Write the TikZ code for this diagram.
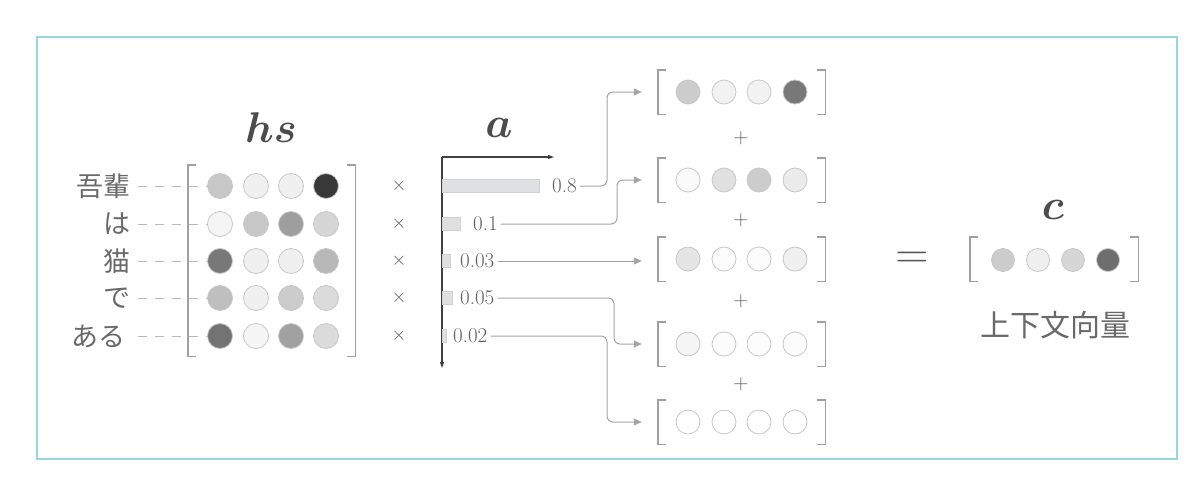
\RequirePackage{fix-cm}
\documentclass[tikz,border=0pt]{standalone}
\usepackage{fontspec}
\usepackage{amsmath,bm}
\newfontfamily\jp{Noto Sans CJK JP}
\usetikzlibrary{arrows.meta}
\definecolor{framec}{RGB}{150,214,220}
\definecolor{txt}{RGB}{95,95,95}
\definecolor{jtxt}{RGB}{105,105,105}
\definecolor{brk}{RGB}{160,160,160}
\definecolor{conn}{RGB}{165,165,165}
\definecolor{barfill}{RGB}{222,224,226}
\tikzset{
  dot/.style={circle, minimum size=25pt, inner sep=0pt, draw=black!22, line width=0.8pt},
  sdot/.style={dot, minimum size=24pt},
  cdot/.style={dot, minimum size=23pt},
  lbl/.style={font=\jp\fontsize{27}{30}\selectfont, text=jtxt, anchor=east, inner sep=0pt},
  dashline/.style={draw=black!28, dash pattern=on 9pt off 8pt, line width=1pt},
  bracket/.style={draw=brk, line width=1.4pt},
  vecbox/.style={rectangle, minimum width=167pt, minimum height=44pt, inner sep=0pt},
  times/.style={font=\fontsize{19}{21}\selectfont, text=txt},
  bar/.style={rectangle, fill=barfill, draw=black!18, line width=0.5pt, minimum height=13pt, inner sep=0pt, anchor=west},
  num/.style={font=\fontsize{21}{23}\selectfont, text=txt, anchor=west, inner xsep=3pt, inner ysep=0pt},
  connector/.style={draw=conn, line width=1pt, rounded corners=6pt, -{Triangle[length=8pt,width=7pt]}},
  plus/.style={font=\fontsize{21}{23}\selectfont, text=txt},
  big/.style={font=\boldmath\fontsize{43}{46}\selectfont, text=black!70},
  axis/.style={draw=black!75, line width=1.1pt, -{Triangle[length=6pt,width=4pt]}}
}
\newcommand{\mybrackets}[1]{%
  \draw[bracket] ([xshift=8pt]#1.north west) -- (#1.north west) -- (#1.south west) -- ([xshift=8pt]#1.south west);
  \draw[bracket] ([xshift=-8pt]#1.north east) -- (#1.north east) -- (#1.south east) -- ([xshift=-8pt]#1.south east);}
\begin{document}
\begin{tikzpicture}[x=1pt,y=-1pt]
\useasboundingbox (0,0) rectangle (1200,482);
\draw[framec, line width=1.5pt] (37,37) rectangle (1177,459);

% titles
\node[big] (hs) at (271,128) {$hs$};
\node[big] (a) at (499,128) {$a$};
\node[big] (c) at (1053,210) {$c$};

% hs matrix
\node[vecbox, minimum height=191pt] (M) at (271.5,260.5) {};
\mybrackets{M}
\foreach \r/\y/\ca/\cb/\cc/\cd in {1/186/22/6/6/78, 2/224/4/22/38/16, 3/261/53/6/6/28, 4/298/25/6/20/14, 5/336/55/4/37/14}{
  \node[dot, fill=black!\ca] (m\r1) at (220,\y) {};
  \node[dot, fill=black!\cb] (m\r2) at (256,\y) {};
  \node[dot, fill=black!\cc] (m\r3) at (291,\y) {};
  \node[dot, fill=black!\cd] (m\r4) at (326,\y) {};
}
\node[lbl] (l1) at (131,186) {吾輩};
\node[lbl] (l2) at (131,224) {は};
\node[lbl] (l3) at (131,261) {猫};
\node[lbl] (l4) at (131,298) {で};
\node[lbl] (l5) at (126,336) {ある};
\foreach \r in {1,...,5}{
  \draw[dashline] (l\r.east -| 138,0) -- (m\r1.west);
}

% times
\foreach \r/\y in {1/186,2/224,3/261,4/298,5/336}{
  \node[times] (t\r) at (399,\y) {$\times$};
}

% axis
\coordinate (o) at (442,157);
\coordinate (ax) at (554,157);
\coordinate (ay) at (442,368);
\draw[axis] (o) -- (ax);
\draw[axis] (o) -- (ay);

% bars
\node[bar, minimum width=97pt] (b1) at (442,186) {};
\node[bar, minimum width=18pt] (b2) at (442,224) {};
\node[bar, minimum width=8pt] (b3) at (442,261) {};
\node[bar, minimum width=10pt] (b4) at (442,298) {};
\node[bar, minimum width=4pt] (b5) at (442,336) {};
\node[num] (n1) at (549,186) {0.8};
\node[num] (n2) at (470,224) {0.1};
\node[num] (n3) at (457,261) {0.03};
\node[num] (n4) at (457,298) {0.05};
\node[num] (n5) at (450,336) {0.02};

% weighted vectors
\foreach \k/\y/\ca/\cb/\cc/\cd in {1/92/20/5/5/53, 2/180/2/12/20/8, 3/259/10/1/1/6, 4/344/4/1/1/1, 5/422/0/0/0/0}{
  \node[vecbox] (v\k) at (741.5,\y) {};
  \mybrackets{v\k}
  \node[sdot, fill=black!\ca] (v\k1) at (688,\y) {};
  \node[sdot, fill=black!\cb] (v\k2) at (724,\y) {};
  \node[sdot, fill=black!\cc] (v\k3) at (759,\y) {};
  \node[sdot, fill=black!\cd] (v\k4) at (795,\y) {};
}
\node[plus] (p1) at (741,138) {$+$};
\node[plus] (p2) at (741,220) {$+$};
\node[plus] (p3) at (741,301) {$+$};
\node[plus] (p4) at (741,384) {$+$};

% connectors
\coordinate (k1) at (607,0);
\coordinate (k2) at (617,0);
\coordinate (k4) at (614,0);
\coordinate (k5) at (607,0);
\draw[connector, shorten >=16pt] (n1.east) -| (k1 |- v1.west) -- (v1.west);
\draw[connector, shorten >=16pt] (n2.east) -| (k2 |- v2.west) -- (v2.west);
\draw[connector, shorten >=16pt] (n3.east) -- (n3.east -| v3.west);
\draw[connector, shorten >=16pt] (n4.east) -| (k4 |- v4.west) -- (v4.west);
\draw[connector, shorten >=16pt] (n5.east) -| (k5 |- v5.west) -- (v5.west);

% result
\node[font=\fontsize{46}{48}\selectfont, text=black!65] (eq) at (912,260) {$=$};
\node[vecbox, minimum width=168pt] (cv) at (1054,259) {};
\mybrackets{cv}
\node[cdot, fill=black!20] (c1) at (1003,260) {};
\node[cdot, fill=black!6] (c2) at (1038,260) {};
\node[cdot, fill=black!16] (c3) at (1073,260) {};
\node[cdot, fill=black!57] (c4) at (1108,260) {};
\node[font=\jp\fontsize{30}{33}\selectfont, text=jtxt] (cl) at (1055,325) {上下文向量};
\end{tikzpicture}
\end{document}
